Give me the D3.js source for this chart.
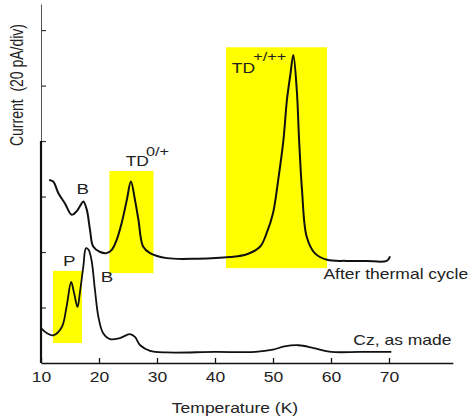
<!DOCTYPE html>
<html>
<head>
<meta charset="utf-8">
<script src="https://cdn.jsdelivr.net/npm/d3@7"></script>
<style>
  body { margin: 0; background: #fff; }
  svg { display: block; font-family: "Liberation Sans", Arial, sans-serif; }
</style>
</head>
<body>
<svg id="chart" width="471" height="419"></svg>
<script>
// tick values
const tempTicks = [10, 20, 30, 40, 50, 60, 70];
const currentTicks = [1, 2, 3, 4, 5, 6];

// "After thermal cycle" trace (temperature K, current in divisions)
const afterT = [11.4, 12.1, 13.0, 14.1, 15.3, 16.1, 16.8, 17.3, 17.9, 18.45, 19.0, 20.2, 21.3, 22.2,
  23.05, 23.9, 24.8, 25.5, 26.2, 26.8, 27.6, 28.8, 31.7, 37, 42.6, 45.5, 47.8, 48.9, 50.0, 50.9,
  51.8, 52.4, 53.0, 53.5, 54.1, 54.5, 55.0, 55.8, 57.2, 59.3, 62.7, 66, 69.6, 70.2];
const afterI = [3.30, 3.27, 3.06, 2.88, 2.67, 2.73, 2.84, 2.91, 2.76, 2.40, 2.10, 2.00, 1.98, 2.04,
  2.22, 2.52, 2.94, 3.27, 2.94, 2.58, 2.10, 1.98, 1.89, 1.88, 1.91, 1.96, 2.10, 2.34, 2.70, 3.30,
  4.02, 4.74, 5.20, 5.55, 4.92, 4.02, 3.12, 2.28, 1.98, 1.86, 1.84, 1.84, 1.84, 1.92];

// "Cz, as made" trace
const czT = [10, 11, 12.1, 13.6, 14.4, 15.2, 15.7, 16.3, 16.7, 17.3, 17.76, 18.2, 18.7, 19.3, 19.9,
  20.7, 21.9, 23.6, 25.3, 26.2, 27.1, 28.8, 31.7, 40, 47, 50, 52, 54.4, 57, 60, 65, 70.4];
const czI = [0.63, 0.54, 0.50, 0.65, 1.01, 1.46, 1.26, 1.01, 1.26, 1.74, 2.07, 2.04, 1.86, 1.32, 0.83,
  0.54, 0.43, 0.45, 0.52, 0.47, 0.32, 0.22, 0.19, 0.20, 0.20, 0.24, 0.30, 0.32, 0.27, 0.20, 0.20, 0.20];

// highlighted peak regions
const boxT0 = [12.07, 21.8, 41.9];
const boxT1 = [17.07, 29.4, 59.3];
const boxI0 = [0.36, 1.62, 1.71];
const boxI1 = [1.66, 3.46, 5.69];

const svg = d3.select("#chart");
const sx = 1.25; // text in the original is stretched horizontally

const x = d3.scaleLinear().domain([10, 81]).range([41, 452.8]);
const y = d3.scaleLinear().domain([0, 6.47]).range([363, 4]);

// yellow boxes
svg.append("g").selectAll("rect")
  .data(boxT0)
  .join("rect")
  .attr("x", (d, i) => x(boxT0[i]))
  .attr("width", (d, i) => x(boxT1[i]) - x(boxT0[i]))
  .attr("y", (d, i) => y(boxI1[i]))
  .attr("height", (d, i) => y(boxI0[i]) - y(boxI1[i]))
  .attr("fill", "#ffff00");

// axes
const xAxis = svg.append("g")
  .attr("transform", "translate(0," + y(0) + ")")
  .call(d3.axisBottom(x).tickValues(tempTicks).tickSizeInner(-5).tickSizeOuter(0).tickPadding(9));
xAxis.select(".domain").attr("stroke", "#111").attr("stroke-width", 1.6);
xAxis.selectAll(".tick line").attr("stroke", "#111").attr("stroke-width", 1.3);
xAxis.selectAll(".tick text")
  .attr("font-size", 14)
  .attr("font-family", "Liberation Sans, Arial, sans-serif")
  .attr("fill", "#222")
  .attr("transform", "scale(" + sx + ",1)");

const yAxis = svg.append("g")
  .attr("transform", "translate(" + x(10) + ",0)")
  .call(d3.axisLeft(y).tickValues(currentTicks).tickSizeInner(-5).tickSizeOuter(0).tickFormat(""));
yAxis.select(".domain").attr("stroke", "#555").attr("stroke-width", 1);
yAxis.selectAll(".tick line").attr("stroke", "#333").attr("stroke-width", 1.2);

// thicker lower part of the current axis
svg.append("line")
  .attr("x1", x(10)).attr("x2", x(10))
  .attr("y1", y(0)).attr("y2", y(4))
  .attr("stroke", "#111").attr("stroke-width", 2.2);

// traces
const line = d3.line()
  .x(d => x(d[0]))
  .y(d => y(d[1]))
  .curve(d3.curveCatmullRom.alpha(0.5));

svg.append("path")
  .datum(afterT.map((t, i) => [t, afterI[i]]))
  .attr("fill", "none")
  .attr("stroke", "#111")
  .attr("stroke-width", 2)
  .attr("d", line);

svg.append("path")
  .datum(czT.map((t, i) => [t, czI[i]]))
  .attr("fill", "none")
  .attr("stroke", "#111")
  .attr("stroke-width", 1.8)
  .attr("d", line);

// text helper: positioned in data units
function label(t, v, str, size, anchor) {
  return svg.append("text")
    .attr("transform", "translate(" + x(t) + "," + y(v) + ") scale(" + sx + ",1)")
    .attr("text-anchor", anchor || "start")
    .attr("font-size", size)
    .attr("fill", "#222")
    .text(str);
}

label(16.1, 3.05, "B", 15);
label(13.8, 1.75, "P", 15);
label(20.3, 1.46, "B", 15);

label(24.6, 3.55, "TD", 14);
label(28.1, 3.73, "0/+", 13);
label(42.9, 5.23, "TD", 14);
label(46.6, 5.45, "+/++", 13);

label(58.7, 1.51, "After thermal cycle", 14);
label(63.85, 0.33, "Cz, as made", 14);

// axis titles
svg.append("text")
  .attr("transform", "translate(235,413) scale(" + sx + ",1)")
  .attr("text-anchor", "middle")
  .attr("font-size", 14)
  .attr("fill", "#222")
  .text("Temperature (K)");

svg.append("text")
  .attr("transform", "translate(23,85) scale(" + sx + ",1) rotate(-90)")
  .attr("text-anchor", "middle")
  .attr("font-size", 14)
  .attr("fill", "#222")
  .attr("xml:space", "preserve")
  .style("white-space", "pre")
  .text("Current  (20 pA/div)");
</script>
</body>
</html>
